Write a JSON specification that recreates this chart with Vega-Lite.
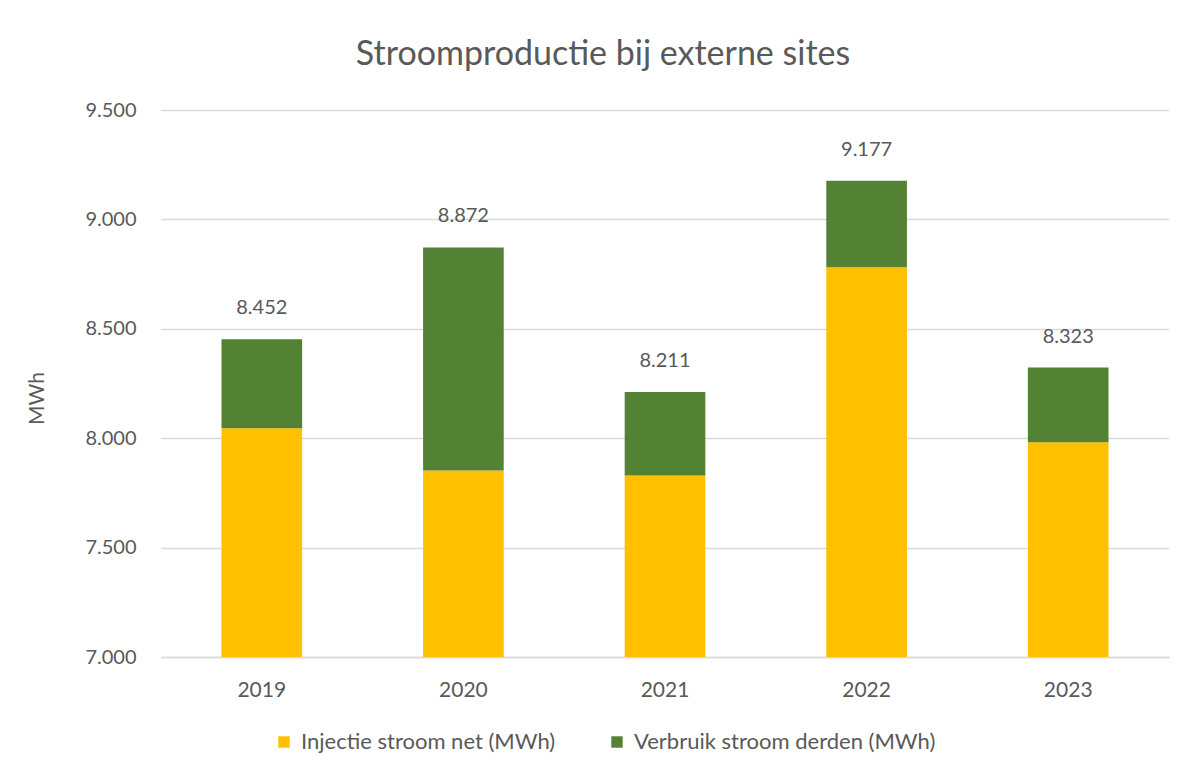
{
  "$schema": "https://vega.github.io/schema/vega-lite/v6.json",
  "width": 1008,
  "height": 547,
  "autosize": {"type": "none"},
  "padding": {"left": 161, "top": 110, "right": 17, "bottom": 116},
  "background": "white",
  "config": {
    "locale": {"number": {"decimal": ",", "thousands": ".", "grouping": [3], "currency": ["€", ""]}},
    "font": "Lato",
    "view": {"stroke": null}
  },
  "title": {
    "text": "Stroomproductie bij externe sites",
    "fontSize": 34,
    "font": "Lato",
    "fontWeight": "normal",
    "color": "#595959",
    "anchor": "middle",
    "frame": "group",
    "dx": -62,
    "offset": 28
  },
  "datasets": {
    "bars": [
      {"jaar": "2019", "reeks": "Injectie stroom net (MWh)", "waarde": 8046},
      {"jaar": "2019", "reeks": "Verbruik stroom derden (MWh)", "waarde": 406},
      {"jaar": "2020", "reeks": "Injectie stroom net (MWh)", "waarde": 7852},
      {"jaar": "2020", "reeks": "Verbruik stroom derden (MWh)", "waarde": 1020},
      {"jaar": "2021", "reeks": "Injectie stroom net (MWh)", "waarde": 7830},
      {"jaar": "2021", "reeks": "Verbruik stroom derden (MWh)", "waarde": 381},
      {"jaar": "2022", "reeks": "Injectie stroom net (MWh)", "waarde": 8781},
      {"jaar": "2022", "reeks": "Verbruik stroom derden (MWh)", "waarde": 396},
      {"jaar": "2023", "reeks": "Injectie stroom net (MWh)", "waarde": 7982},
      {"jaar": "2023", "reeks": "Verbruik stroom derden (MWh)", "waarde": 341}
    ],
    "totals": [
      {"jaar": "2019", "totaal": 8452},
      {"jaar": "2020", "totaal": 8872},
      {"jaar": "2021", "totaal": 8211},
      {"jaar": "2022", "totaal": 9177},
      {"jaar": "2023", "totaal": 8323}
    ]
  },
  "encoding": {
    "x": {
      "field": "jaar",
      "type": "ordinal",
      "scale": {"paddingInner": 0.6, "paddingOuter": 0.3},
      "axis": {
        "title": null,
        "labelAngle": 0,
        "labelFontSize": 21,
        "labelColor": "#595959",
        "labelFont": "Lato",
        "labelBaseline": "alphabetic",
        "labelPadding": 39,
        "ticks": false,
        "domainColor": "#d9d9d9",
        "domainWidth": 1.5,
        "grid": false
      }
    }
  },
  "layer": [
    {
      "data": {"name": "bars"},
      "mark": {"type": "bar", "clip": true},
      "encoding": {
        "y": {
          "field": "waarde",
          "type": "quantitative",
          "stack": "zero",
          "scale": {"domain": [7000, 9500], "nice": false, "zero": false},
          "axis": {
            "title": "MWh",
            "titleFontSize": 21,
            "titleFont": "Lato",
            "titleFontWeight": "normal",
            "titleColor": "#595959",
            "titleX": -124,
            "titleY": 288,
            "titleAlign": "center",
            "titleBaseline": "middle",
            "titleAngle": -90,
            "values": [7000, 7500, 8000, 8500, 9000, 9500],
            "format": ",.0f",
            "labelFontSize": 20,
            "labelFont": "Lato",
            "labelColor": "#595959",
            "labelPadding": 25,
            "ticks": false,
            "domain": false,
            "grid": true,
            "gridColor": "#d9d9d9",
            "gridWidth": 1.5
          }
        },
        "color": {
          "field": "reeks",
          "type": "nominal",
          "scale": {
            "domain": ["Injectie stroom net (MWh)", "Verbruik stroom derden (MWh)"],
            "range": ["#FFC000", "#548235"]
          },
          "legend": {
            "title": null,
            "orient": "none",
            "direction": "horizontal",
            "legendX": 112,
            "legendY": 621,
            "symbolType": "square",
            "symbolSize": 130,
            "symbolStrokeWidth": 0,
            "labelFontSize": 22,
            "labelFont": "Lato",
            "labelColor": "#595959",
            "labelOffset": 6,
            "labelLimit": 500,
            "columnPadding": 50
          }
        },
        "order": {"field": "reeks", "sort": "ascending"}
      }
    },
    {
      "data": {"name": "totals"},
      "mark": {
        "type": "text",
        "fontSize": 20,
        "font": "Lato",
        "color": "#595959",
        "baseline": "alphabetic",
        "dy": -25
      },
      "encoding": {
        "y": {"field": "totaal", "type": "quantitative"},
        "text": {"field": "totaal", "type": "quantitative", "format": ",.0f"}
      }
    }
  ]
}
